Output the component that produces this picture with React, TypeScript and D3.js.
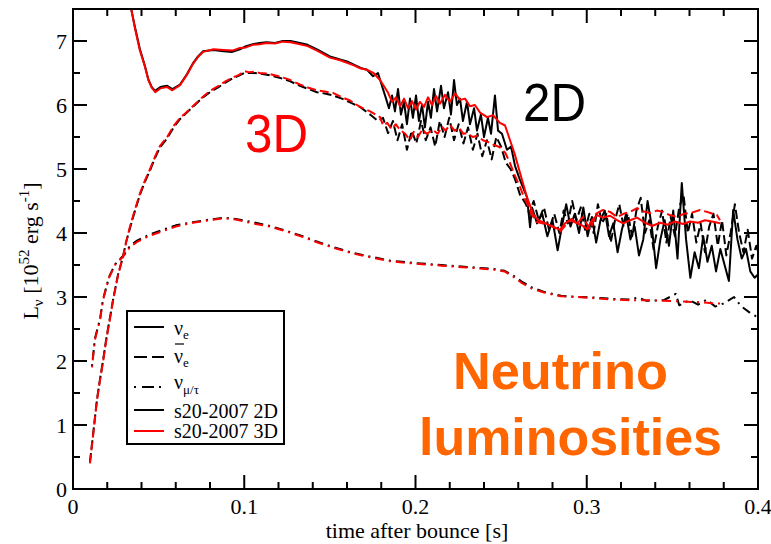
import React from 'react';
import * as d3 from 'd3';

type P = [number, number];

const xMajor = [0, 0.1, 0.2, 0.3, 0.4];
const xLabels = ['0', '0.1', '0.2', '0.3', '0.4'];
const yMajor = [0, 1, 2, 3, 4, 5, 6, 7];
const xMinor = [0.02, 0.04, 0.06, 0.08, 0.12, 0.14, 0.16, 0.18, 0.22, 0.24, 0.26, 0.28, 0.32, 0.34, 0.36, 0.38];
const yMinor = [0.5, 1.5, 2.5, 3.5, 4.5, 5.5, 6.5, 7.5];

// 3D model (red)
const nue3D: P[] = [[0.031,7.75],[0.034,7.5],[0.036,7.22],[0.039,6.86],[0.042,6.6],[0.044,6.39],[0.046,6.27],[0.048,6.2],[0.051,6.26],[0.055,6.28],[0.058,6.23],[0.0625,6.31],[0.0665,6.47],[0.070,6.64],[0.073,6.75],[0.076,6.83],[0.082,6.87],[0.088,6.86],[0.093,6.85],[0.0975,6.89],[0.101,6.9],[0.105,6.94],[0.109,6.95],[0.113,6.97],[0.118,6.96],[0.1225,6.99],[0.127,6.98],[0.1325,6.95],[0.137,6.92],[0.1425,6.85],[0.146,6.8],[0.150,6.74],[0.156,6.7],[0.160,6.66],[0.164,6.62],[0.168,6.57],[0.1717,6.55],[0.1755,6.5],[0.1793,6.39],[0.184,6.19],[0.1863,6.05],[0.1886,6.12],[0.191,5.98],[0.1933,6.10],[0.1956,5.95],[0.198,6.06],[0.2003,5.93],[0.2026,6.05],[0.205,5.97],[0.2073,6.12],[0.2096,6.0],[0.212,6.14],[0.2143,6.02],[0.2172,6.16],[0.2201,6.05],[0.2231,6.18],[0.226,6.08],[0.2289,6.1],[0.2318,5.98],[0.2347,6.0],[0.2377,5.88],[0.2418,5.81],[0.2453,5.84],[0.2493,5.72],[0.2523,5.68],[0.2552,5.45],[0.2581,5.22],[0.261,4.94],[0.2651,4.56],[0.2686,4.3],[0.2715,4.2],[0.2745,4.17],[0.2785,4.12],[0.282,4.08],[0.2844,4.05],[0.2873,4.15],[0.2902,4.2],[0.2937,4.16],[0.2972,4.12],[0.3001,4.06],[0.3031,4.2],[0.306,4.28],[0.3095,4.24],[0.3136,4.27],[0.3177,4.2],[0.3212,4.15],[0.3253,4.2],[0.3294,4.24],[0.334,4.16],[0.3381,4.11],[0.3428,4.16],[0.3474,4.13],[0.3515,4.18],[0.3562,4.14],[0.3603,4.18],[0.365,4.16],[0.369,4.2],[0.3731,4.18],[0.3766,4.16],[0.378,4.15]];

const nuebar3D: P[] = [[0.0099,0.4],[0.012,0.9],[0.014,1.39],[0.0158,1.7],[0.0175,1.98],[0.019,2.25],[0.0204,2.48],[0.022,2.72],[0.0234,2.95],[0.0263,3.34],[0.0292,3.63],[0.031,3.85],[0.0333,4.1],[0.036,4.35],[0.0391,4.62],[0.042,4.82],[0.045,5.0],[0.048,5.2],[0.0508,5.36],[0.055,5.5],[0.059,5.68],[0.0625,5.8],[0.066,5.88],[0.070,5.98],[0.0759,6.13],[0.080,6.22],[0.085,6.3],[0.089,6.37],[0.0935,6.43],[0.097,6.47],[0.1,6.53],[0.103,6.51],[0.1057,6.52],[0.109,6.5],[0.114,6.49],[0.12,6.45],[0.126,6.4],[0.1325,6.32],[0.1375,6.27],[0.1425,6.23],[0.147,6.21],[0.1518,6.19],[0.157,6.12],[0.1618,6.07],[0.1676,5.97],[0.1735,5.9],[0.1793,5.81],[0.1811,5.68],[0.1835,5.72],[0.186,5.62],[0.1885,5.7],[0.191,5.61],[0.194,5.55],[0.1968,5.45],[0.199,5.58],[0.2015,5.5],[0.204,5.62],[0.2065,5.55],[0.2102,5.61],[0.213,5.55],[0.2155,5.66],[0.2175,5.6],[0.2201,5.69],[0.2228,5.6],[0.2255,5.64],[0.228,5.55],[0.2301,5.56],[0.2335,5.5],[0.236,5.52],[0.2394,5.45],[0.2425,5.42],[0.2455,5.38],[0.2493,5.34],[0.2525,5.25],[0.2552,5.09],[0.258,4.9],[0.261,4.72],[0.2635,4.55],[0.2651,4.47],[0.268,4.28],[0.271,4.17],[0.2745,4.15],[0.2785,4.12],[0.2815,4.08],[0.2844,4.02],[0.2875,4.12],[0.291,4.22],[0.2945,4.15],[0.2978,4.25],[0.3019,4.05],[0.306,4.31],[0.3095,4.36],[0.3136,4.33],[0.3177,4.25],[0.3215,4.3],[0.3253,4.33],[0.3294,4.39],[0.333,4.34],[0.3369,4.31],[0.341,4.35],[0.3445,4.33],[0.3485,4.28],[0.3527,4.25],[0.3565,4.3],[0.3603,4.31],[0.3662,4.36],[0.3702,4.33],[0.3735,4.3],[0.376,4.28],[0.3778,4.2]];

const numu3D: P[] = [[0.0111,1.9],[0.0128,2.33],[0.0158,2.64],[0.0175,2.95],[0.021,3.3],[0.0245,3.5],[0.0292,3.63],[0.0333,3.78],[0.0374,3.86],[0.045,3.96],[0.0525,4.03],[0.06,4.1],[0.07,4.16],[0.08,4.2],[0.088,4.23],[0.095,4.21],[0.105,4.15],[0.115,4.1],[0.125,4.02],[0.135,3.93],[0.142,3.86],[0.152,3.77],[0.162,3.69],[0.172,3.63],[0.185,3.56],[0.2,3.52],[0.215,3.49],[0.23,3.46],[0.245,3.43],[0.252,3.4],[0.258,3.3],[0.262,3.22],[0.268,3.13],[0.275,3.07],[0.285,3.01],[0.295,3.0],[0.305,2.98],[0.315,2.96],[0.325,2.95],[0.335,2.95],[0.345,2.94],[0.355,2.93],[0.365,2.92],[0.375,2.9],[0.378,2.9]];

// 2D model (black)
const nue2D: P[] = [[0.031,7.75],[0.034,7.5],[0.036,7.24],[0.039,6.88],[0.042,6.61],[0.044,6.4],[0.046,6.28],[0.048,6.22],[0.051,6.28],[0.055,6.3],[0.058,6.25],[0.0625,6.32],[0.0665,6.48],[0.070,6.65],[0.073,6.76],[0.076,6.84],[0.082,6.86],[0.088,6.84],[0.093,6.83],[0.0975,6.87],[0.101,6.92],[0.105,6.95],[0.109,6.97],[0.113,6.98],[0.118,6.97],[0.1225,7.0],[0.127,7.0],[0.1325,6.97],[0.137,6.94],[0.1425,6.87],[0.146,6.82],[0.15,6.76],[0.156,6.71],[0.16,6.68],[0.164,6.63],[0.168,6.58],[0.1717,6.55],[0.1752,6.45],[0.1781,6.5],[0.1804,6.3],[0.1828,6.1],[0.1845,5.95],[0.1863,6.15],[0.188,5.9],[0.1898,6.25],[0.1915,5.85],[0.1933,6.05],[0.195,5.7],[0.1968,6.1],[0.1985,5.8],[0.2003,6.15],[0.202,5.75],[0.2038,6.0],[0.2055,5.65],[0.2073,6.05],[0.209,5.8],[0.2108,6.25],[0.2126,5.9],[0.2149,6.3],[0.2166,5.95],[0.219,6.2],[0.2207,5.85],[0.2225,6.39],[0.2242,6.0],[0.226,6.1],[0.2277,5.75],[0.2301,6.05],[0.2318,5.7],[0.2342,5.95],[0.2359,5.6],[0.2382,5.85],[0.24,5.5],[0.2423,5.8],[0.2441,5.55],[0.2464,6.15],[0.2482,5.6],[0.2505,5.55],[0.2534,5.3],[0.2558,5.35],[0.2581,5.05],[0.261,4.83],[0.2651,4.56],[0.2669,4.09],[0.268,4.4],[0.271,4.15],[0.274,4.3],[0.277,3.95],[0.28,4.2],[0.283,3.73],[0.2855,4.1],[0.288,4.45],[0.2905,4.1],[0.293,4.3],[0.2955,4.0],[0.298,4.4],[0.3005,3.95],[0.303,4.25],[0.3055,3.85],[0.308,4.2],[0.3105,4.35],[0.313,3.95],[0.3155,4.15],[0.318,3.7],[0.3205,4.05],[0.323,4.3],[0.3255,3.9],[0.328,4.1],[0.3305,3.65],[0.333,3.9],[0.3355,4.5],[0.338,4.1],[0.3405,3.45],[0.343,3.9],[0.3455,4.2],[0.348,3.8],[0.3505,4.35],[0.353,3.6],[0.3555,4.78],[0.358,3.9],[0.3605,3.3],[0.363,3.7],[0.3655,3.45],[0.368,3.95],[0.3705,3.55],[0.373,3.8],[0.3755,3.4],[0.378,3.75],[0.3805,3.5],[0.383,3.25],[0.3855,4.36],[0.388,3.9],[0.3905,3.6],[0.393,3.75],[0.3955,3.4],[0.398,3.3],[0.4,3.35]];

const nuebar2D: P[] = [[0.0099,0.42],[0.012,0.92],[0.014,1.4],[0.0158,1.72],[0.0175,2.0],[0.019,2.27],[0.0204,2.5],[0.022,2.74],[0.0234,2.96],[0.0263,3.35],[0.0292,3.63],[0.031,3.86],[0.0333,4.08],[0.036,4.33],[0.0391,4.6],[0.042,4.8],[0.045,4.98],[0.048,5.18],[0.0508,5.34],[0.055,5.48],[0.059,5.66],[0.0625,5.78],[0.066,5.87],[0.07,5.97],[0.0759,6.12],[0.08,6.2],[0.085,6.28],[0.089,6.35],[0.0935,6.42],[0.097,6.46],[0.1,6.5],[0.103,6.5],[0.1057,6.5],[0.109,6.49],[0.114,6.47],[0.12,6.43],[0.126,6.38],[0.1325,6.3],[0.1375,6.25],[0.1425,6.2],[0.147,6.18],[0.1518,6.15],[0.157,6.1],[0.1618,6.04],[0.1676,5.97],[0.1735,5.85],[0.178,5.75],[0.181,5.8],[0.184,5.56],[0.1868,5.75],[0.1895,5.45],[0.1922,5.7],[0.195,5.3],[0.1978,5.6],[0.2005,5.4],[0.2032,5.75],[0.206,5.45],[0.2088,5.65],[0.2115,5.35],[0.2142,5.75],[0.217,5.5],[0.2197,5.8],[0.2225,5.45],[0.2252,5.7],[0.228,5.4],[0.2307,5.65],[0.2335,5.3],[0.2362,5.55],[0.239,5.2],[0.2417,5.45],[0.2445,5.15],[0.2472,5.5],[0.25,5.35],[0.2527,5.1],[0.2555,5.0],[0.258,4.85],[0.261,4.6],[0.2645,4.45],[0.2665,4.3],[0.269,4.5],[0.272,4.2],[0.275,4.4],[0.278,4.05],[0.281,4.3],[0.284,4.0],[0.2865,4.35],[0.289,4.15],[0.2915,4.5],[0.294,4.2],[0.2965,4.4],[0.299,4.05],[0.3015,4.3],[0.304,4.0],[0.3065,4.45],[0.309,4.15],[0.3115,4.3],[0.314,3.85],[0.3165,4.2],[0.319,4.45],[0.3215,4.1],[0.324,4.3],[0.3265,3.95],[0.329,4.35],[0.3315,4.55],[0.334,4.0],[0.3365,4.2],[0.339,3.75],[0.3415,4.1],[0.344,4.35],[0.3465,3.85],[0.349,4.25],[0.3515,3.95],[0.354,4.4],[0.3565,4.6],[0.359,4.0],[0.3615,4.3],[0.364,3.85],[0.3665,4.15],[0.369,3.7],[0.3715,4.1],[0.374,4.3],[0.3765,3.8],[0.379,4.2],[0.3815,3.65],[0.384,4.0],[0.3865,4.45],[0.389,4.0],[0.3915,3.7],[0.394,4.05],[0.3965,3.6],[0.399,3.8],[0.4,3.7]];

const numu2D: P[] = [[0.0111,1.92],[0.0128,2.35],[0.0158,2.66],[0.0175,2.96],[0.021,3.31],[0.0245,3.51],[0.0292,3.64],[0.0333,3.8],[0.0374,3.88],[0.045,3.98],[0.0525,4.05],[0.06,4.12],[0.07,4.17],[0.08,4.21],[0.088,4.24],[0.095,4.22],[0.105,4.17],[0.115,4.11],[0.125,4.03],[0.135,3.94],[0.142,3.87],[0.152,3.78],[0.162,3.7],[0.172,3.64],[0.185,3.57],[0.2,3.53],[0.215,3.5],[0.23,3.47],[0.245,3.44],[0.252,3.41],[0.258,3.32],[0.262,3.24],[0.268,3.15],[0.275,3.08],[0.285,3.02],[0.295,3.0],[0.305,2.99],[0.315,2.97],[0.325,2.96],[0.33,2.99],[0.335,2.94],[0.345,2.95],[0.352,3.05],[0.354,2.87],[0.36,2.95],[0.365,2.88],[0.37,2.96],[0.375,2.85],[0.38,2.9],[0.386,3.0],[0.39,2.86],[0.395,2.76],[0.4,2.68]];

const W = 771;
const H = 544;
const left = 73, right = 758, top = 9, bottom = 489;

const x = d3.scaleLinear().domain([0, 0.4]).range([left, right]);
const y = d3.scaleLinear().domain([0, 7.5]).range([bottom, top]);
const line = d3.line<P>().x(d => x(d[0])).y(d => y(d[1]));

const DASH = '9,4';
const DASHDOT = '2,5,9,5';
const RED = '#ff0000';
const ORANGE = '#ff6600';

export default function App() {
  const serif = 'Liberation Serif, Times New Roman, serif';
  const sans = 'Liberation Sans, Arial, sans-serif';
  const series: { d: P[]; c: string; dash?: string }[] = [
    { d: numu2D, c: '#000', dash: DASHDOT },
    { d: nuebar2D, c: '#000', dash: DASH },
    { d: nue2D, c: '#000' },
    { d: numu3D, c: RED, dash: DASHDOT },
    { d: nuebar3D, c: RED, dash: DASH },
    { d: nue3D, c: RED },
  ];
  const legRows = [327, 357, 387, 410, 431];
  return (
    <svg width={W} height={H} style={{ position: 'absolute', left: 0, top: 0, background: '#fff' }}>
      <defs>
        <clipPath id="plot">
          <rect x={left} y={top} width={right - left} height={bottom - top} />
        </clipPath>
      </defs>
      <g clipPath="url(#plot)">
        {series.map((s, i) => (
          <path key={i} d={line(s.d) || ''} fill="none" stroke={s.c} strokeWidth={2}
            strokeDasharray={s.dash} strokeLinejoin="round" />
        ))}
      </g>
      <g stroke="#000" strokeWidth={2}>
        {xMajor.map(t => (
          <g key={'xM' + t}>
            <line x1={x(t)} x2={x(t)} y1={bottom} y2={bottom - 14} />
            <line x1={x(t)} x2={x(t)} y1={top} y2={top + 14} />
          </g>
        ))}
        {xMinor.map(t => (
          <g key={'xm' + t}>
            <line x1={x(t)} x2={x(t)} y1={bottom} y2={bottom - 7} />
            <line x1={x(t)} x2={x(t)} y1={top} y2={top + 7} />
          </g>
        ))}
        {yMajor.map(v => (
          <g key={'yM' + v}>
            <line x1={left} x2={left + 14} y1={y(v)} y2={y(v)} />
            <line x1={right} x2={right - 14} y1={y(v)} y2={y(v)} />
          </g>
        ))}
        {yMinor.map(v => (
          <g key={'ym' + v}>
            <line x1={left} x2={left + 7} y1={y(v)} y2={y(v)} />
            <line x1={right} x2={right - 7} y1={y(v)} y2={y(v)} />
          </g>
        ))}
      </g>
      <rect x={left} y={top} width={right - left} height={bottom - top} fill="none" stroke="#000" strokeWidth={2} />
      <g fontFamily={serif} fontSize={22} fill="#000">
        {xMajor.map((t, i) => (
          <text key={'xl' + t} x={x(t)} y={514} textAnchor="middle">{xLabels[i]}</text>
        ))}
        {yMajor.map(v => (
          <text key={'yl' + v} x={67} y={y(v) + 8} textAnchor="end">{v}</text>
        ))}
        <text x={417} y={538} textAnchor="middle">time after bounce [s]</text>
        <text transform="translate(38,251) rotate(-90)" textAnchor="middle">
          L<tspan dy={5} fontSize={15}>ν</tspan>
          <tspan dy={-5}> [10</tspan>
          <tspan dy={-9} fontSize={15}>52</tspan>
          <tspan dy={9}> erg s</tspan>
          <tspan dy={-9} fontSize={15}>-1</tspan>
          <tspan dy={9}>]</tspan>
        </text>
      </g>
      <rect x={127} y={311} width={157} height={133} fill="#fff" stroke="#000" strokeWidth={2} />
      <g strokeWidth={2}>
        <line x1={134} x2={164} y1={legRows[0]} y2={legRows[0]} stroke="#000" />
        <line x1={134} x2={164} y1={legRows[1]} y2={legRows[1]} stroke="#000" strokeDasharray="13,5" />
        <line x1={134} x2={164} y1={legRows[2]} y2={legRows[2]} stroke="#000" strokeDasharray="2,6,12,5" />
        <line x1={134} x2={164} y1={legRows[3]} y2={legRows[3]} stroke="#000" />
        <line x1={134} x2={164} y1={legRows[4]} y2={legRows[4]} stroke={RED} />
      </g>
      <g fontFamily={serif} fontSize={20} fill="#000">
        <text x={174} y={335}>ν<tspan dy={4} fontSize={13}>e</tspan></text>
        <line x1={175} x2={184} y1={344} y2={344} stroke="#000" strokeWidth={1.2} />
        <text x={174} y={363}>ν<tspan dy={4} fontSize={13}>e</tspan></text>
        <text x={174} y={389}>ν<tspan dy={5} fontSize={13}>μ/τ</tspan></text>
        <text x={174} y={418}>s20-2007 2D</text>
        <text x={174} y={438}>s20-2007 3D</text>
      </g>
      <text x={245} y={152} fontFamily={sans} fontSize={54} fill={RED} textLength={63} lengthAdjust="spacingAndGlyphs">3D</text>
      <text x={523} y={121} fontFamily={sans} fontSize={54} fill="#000" textLength={63} lengthAdjust="spacingAndGlyphs">2D</text>
      <text x={453} y={389} fontFamily={sans} fontWeight="bold" fontSize={52} fill={ORANGE} textLength={215} lengthAdjust="spacingAndGlyphs">Neutrino</text>
      <text x={419} y={455} fontFamily={sans} fontWeight="bold" fontSize={52} fill={ORANGE} textLength={303} lengthAdjust="spacingAndGlyphs">luminosities</text>
    </svg>
  );
}
